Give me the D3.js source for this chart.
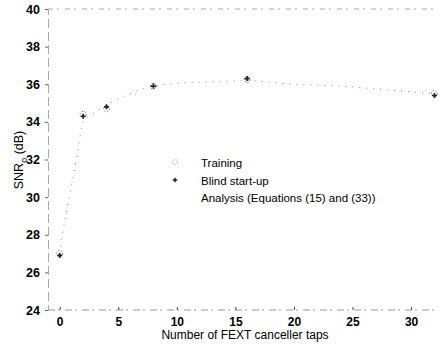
<!DOCTYPE html>
<html><head><meta charset="utf-8">
<script src="https://cdn.jsdelivr.net/npm/d3@7"></script>
<style>
body{margin:0;background:#fff;}
text{font-family:"Liberation Sans",Arial,sans-serif;fill:#000;}
</style></head>
<body>
<svg id="c" width="441" height="346"></svg>
<script>
const taps = [0, 2, 4, 8, 16, 32];
const trainingSNR = [27.0, 34.4, 34.7, 35.9, 36.25, 35.5];
const blindSNR = [26.9, 34.3, 34.8, 35.9, 36.3, 35.4];
const analysisTaps = [0, 0.5, 1, 1.5, 2, 3, 4, 5, 6, 8, 10, 12, 14, 16, 18, 20, 22, 24, 26, 28, 30, 32];
const analysisSNR = [27.0, 29.0, 30.6, 32.3, 34.0, 34.5, 34.9, 35.2, 35.5, 35.9, 36.05, 36.1, 36.15, 36.2, 36.1, 36.0, 35.95, 35.9, 35.8, 35.7, 35.6, 35.5];
const xTicks = [0, 5, 10, 15, 20, 25, 30];
const yTicks = [24, 26, 28, 30, 32, 34, 36, 38, 40];
const legendLabels = ["Training", "Blind start-up", "Analysis (Equations (15) and (33))"];

const svg = d3.select("#c");
const L = 48, R = 438, T = 9, B = 310;
const x = d3.scaleLinear().domain([-1, 32.3]).range([L, R]);
const y = d3.scaleLinear().domain([24, 40]).range([B, T]);

// frame lines (faint, broken as in the scan)
svg.append("line").attr("x1", L).attr("x2", R).attr("y1", T).attr("y2", T)
  .attr("stroke", "#aaa").attr("stroke-width", 1).attr("stroke-dasharray", "5,4,2,6");
svg.append("line").attr("x1", L).attr("x2", R).attr("y1", B).attr("y2", B)
  .attr("stroke", "#999").attr("stroke-width", 1).attr("stroke-dasharray", "7,3,2,5");

// axes
const xa = svg.append("g").attr("transform", `translate(0,${B})`)
  .call(d3.axisBottom(x).tickValues(xTicks).tickSize(-3).tickPadding(7).tickFormat(d3.format("d")));
xa.select(".domain").remove();
xa.selectAll("line").attr("stroke", "#444");
xa.selectAll("text").attr("font-size", 12).attr("font-weight", "bold").attr("fill", "#000")
  .style("font-family", "'Liberation Sans', Arial, sans-serif");

const ya = svg.append("g").attr("transform", `translate(${L},0)`)
  .call(d3.axisLeft(y).tickValues(yTicks).tickSize(3).tickPadding(5).tickFormat(d3.format("d")));
ya.select(".domain").attr("stroke", "#aaa").attr("stroke-dasharray", "9,4");
ya.selectAll("line").attr("stroke", "#666");
ya.selectAll("text").attr("font-size", 12.5).attr("font-weight", "bold").attr("fill", "#000")
  .style("font-family", "'Liberation Sans', Arial, sans-serif");

// analysis dotted line
const line = d3.line().x(d => x(d[0])).y(d => y(d[1])).curve(d3.curveMonotoneX);
svg.append("path").datum(analysisTaps.map((t, i) => [t, analysisSNR[i]]))
  .attr("d", line).attr("fill", "none").attr("stroke", "#888")
  .attr("stroke-width", 1).attr("stroke-dasharray", "1,6");

// training markers (faint dotted circles)
svg.append("g").selectAll("circle").data(taps).join("circle")
  .attr("cx", d => x(d)).attr("cy", (d, i) => y(trainingSNR[i])).attr("r", 3)
  .attr("fill", "none").attr("stroke", "#777").attr("stroke-width", 1).attr("stroke-dasharray", "1.5,1.5");

// blind start-up markers (+)
const plus = d3.symbol().type(d3.symbolCross).size(14);
svg.append("g").selectAll("path").data(taps).join("path")
  .attr("d", plus)
  .attr("transform", (d, i) => `translate(${x(d)},${y(blindSNR[i])})`)
  .attr("fill", "#222");

// legend
const lg = svg.append("g");
lg.append("circle").attr("cx", 175).attr("cy", 162).attr("r", 2.5)
  .attr("fill", "none").attr("stroke", "#aaa").attr("stroke-dasharray", "1.5,1.5");
lg.append("path").attr("d", d3.symbol().type(d3.symbolCross).size(12))
  .attr("transform", "translate(175,180)").attr("fill", "#222");
legendLabels.forEach((s, i) => {
  lg.append("text").attr("x", 201).attr("y", 167 + i * 17.5).attr("font-size", 11.5).text(s);
});

// axis titles
svg.append("text").attr("x", 245).attr("y", 339).attr("text-anchor", "middle")
  .attr("font-size", 12).text("Number of FEXT canceller taps");
const yl = svg.append("text").attr("transform", "translate(23,160) rotate(-90)")
  .attr("text-anchor", "middle").attr("font-size", 12.5);
yl.append("tspan").text("SNR");
yl.append("tspan").attr("dy", 4).attr("font-size", 9).text("o");
yl.append("tspan").attr("dy", -4).text(" (dB)");
</script>
</body></html>
